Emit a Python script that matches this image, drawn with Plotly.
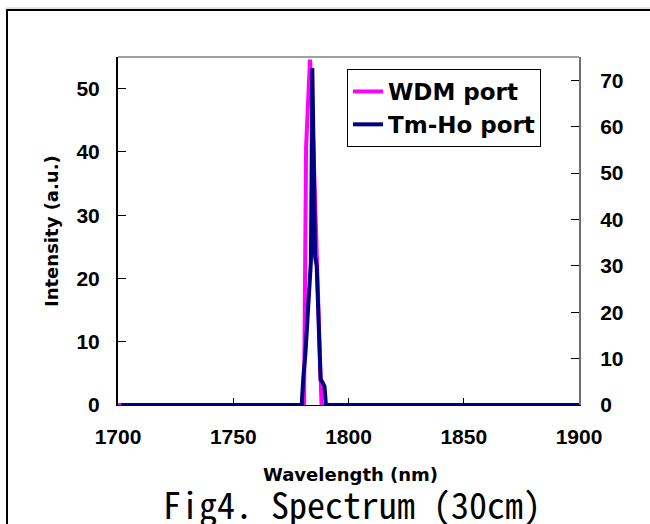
import plotly.graph_objects as go

# ---- data ----
wdm_wavelength = [1700, 1780.7, 1781.6, 1783.3, 1784.0, 1785.5, 1787.6, 1788.3, 1900]
wdm_intensity = [0, 0, 40.8, 54.6, 50, 30, 7.6, 0, 0]

tmho_wavelength = [1701.3, 1779.7, 1780.4, 1781.3, 1783.7, 1784.3, 1785.0, 1785.5,
                   1786.2, 1787.9, 1788.6, 1789.6, 1790.2, 1900]
tmho_intensity = [0, 0, 6, 11, 31, 72.6, 50, 32, 30, 5.5, 5, 4, 0, 0]

x_ticks = [1700, 1750, 1800, 1850, 1900]
y_left_ticks = [0, 10, 20, 30, 40, 50]
y_right_ticks = [0, 10, 20, 30, 40, 50, 60, 70]

W, H = 650, 524
L, R, T, B = 118, 579, 57, 405


def px2x(px):
    return (px - L) / (R - L)


def py2y(py):
    return (B - py) / (B - T)


tick_font = dict(family="Liberation Sans", size=21, color="black", weight="bold")

fig = go.Figure()
fig.add_trace(go.Scatter(x=wdm_wavelength, y=wdm_intensity, mode="lines",
                         name="WDM port", line=dict(color="#FF00FF", width=4),
                         yaxis="y"))
fig.add_trace(go.Scatter(x=tmho_wavelength, y=tmho_intensity, mode="lines",
                         name="Tm-Ho port", line=dict(color="#000080", width=4),
                         yaxis="y2"))

fig.update_layout(
    width=W, height=H,
    margin=dict(l=L, r=W - R, t=T, b=H - B, pad=0),
    paper_bgcolor="white", plot_bgcolor="white",
    xaxis=dict(range=[1700, 1900], tickvals=x_ticks, ticks="inside", ticklen=7,
               tickcolor="black", showline=True, linecolor="black", linewidth=1,
               showgrid=False, zeroline=False, tickfont=tick_font,
               ticklabelstandoff=13),
    yaxis=dict(range=[0, 55], tickvals=y_left_ticks, ticks="inside", ticklen=8,
               tickcolor="black", showline=True, linecolor="black", linewidth=2,
               showgrid=False, zeroline=False, tickfont=tick_font,
               ticklabelstandoff=12),
    yaxis2=dict(range=[0, 75], tickvals=y_right_ticks, ticks="inside", ticklen=8,
                tickcolor="black", showline=True, linecolor="#707070", linewidth=2,
                showgrid=False, zeroline=False, tickfont=tick_font,
                overlaying="y", side="right", ticklabelstandoff=15),
    legend=dict(x=px2x(347), y=py2y(69), xanchor="left", yanchor="top",
                bgcolor="white", bordercolor="black", borderwidth=1,
                font=dict(family="DejaVu Sans", size=23, color="black", weight="bold")),
    showlegend=True,
)

# plot-area top border (grey) and outer frame
fig.add_shape(type="line", xref="paper", yref="paper", x0=0, x1=1, y0=1, y1=1,
              line=dict(color="#a0a0a0", width=2))
fig.add_shape(type="rect", xref="paper", yref="paper",
              x0=px2x(7), x1=px2x(660), y0=py2y(10), y1=py2y(540),
              line=dict(color="black", width=2), fillcolor="rgba(0,0,0,0)", layer="below")
fig.add_shape(type="line", xref="paper", yref="paper",
              x0=px2x(6), x1=px2x(660), y0=py2y(8), y1=py2y(8),
              line=dict(color="#c8c8c8", width=1))

fig.add_annotation(text="Intensity (a.u.)", xref="paper", yref="paper",
                   x=px2x(51), y=py2y(231), textangle=-90, showarrow=False,
                   xanchor="center", yanchor="middle",
                   font=dict(family="DejaVu Sans", size=18, color="black", weight="bold"))
fig.add_annotation(text="Wavelength (nm)", xref="paper", yref="paper",
                   x=px2x(350), y=py2y(474), showarrow=False,
                   xanchor="center", yanchor="middle",
                   font=dict(family="DejaVu Sans", size=18, color="black", weight="bold"))
fig.add_annotation(text="Fig4. Spectrum (30cm)", xref="paper", yref="paper",
                   x=px2x(352), y=py2y(503), showarrow=False,
                   xanchor="center", yanchor="middle",
                   font=dict(family="Noto Sans Mono CJK JP, DejaVu Sans Mono", size=36,
                             color="black"))

fig.write_html("out.html")
